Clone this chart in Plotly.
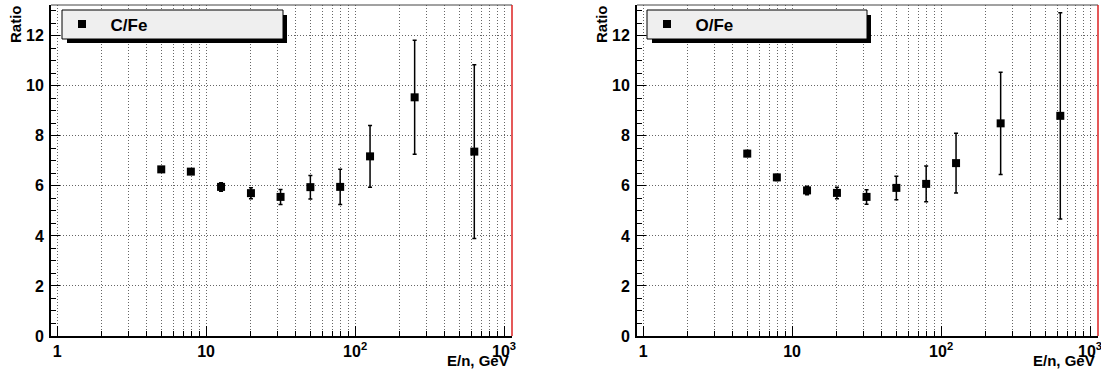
import math
import plotly.graph_objects as go

# ---- data ----
energy = [5.0, 7.9, 12.6, 20.0, 31.6, 50.1, 79.4, 126, 251, 631]
c_fe = [6.66, 6.57, 5.96, 5.71, 5.56, 5.95, 5.96, 7.18, 9.54, 7.37]
c_fe_err = [0.10, 0.10, 0.17, 0.22, 0.30, 0.47, 0.70, 1.23, 2.28, 3.47]
o_fe = [7.29, 6.34, 5.82, 5.72, 5.56, 5.92, 6.08, 6.91, 8.50, 8.80]
o_fe_err = [0.12, 0.12, 0.17, 0.23, 0.29, 0.47, 0.71, 1.19, 2.04, 4.12]
series_names = ["C/Fe", "O/Fe"]
x_tick_vals = [1, 10, 100, 1000]
x_tick_text = ["<b>1</b>", "<b>10</b>", "<b>10<sup>2</sup></b>", "<b>10<sup>3</sup></b>"]
x_minor_vals = [2, 3, 4, 5, 6, 7, 8, 9, 20, 30, 40, 50, 60, 70, 80, 90,
                200, 300, 400, 500, 600, 700, 800, 900]
y_tick_vals = [0, 2, 4, 6, 8, 10, 12]
y_axis_title = "Ratio"
x_axis_title = "E/n, GeV"

W, H = 1101, 376
FONT = "Liberation Sans, Arial, Helvetica, sans-serif"
GRID = "#666666"
GRIDDASH = "1px,2px"

def px(x):
    return x / W

def py(y):
    return (H - y) / H

panels = [
    dict(left=51, right=512, legend_box=(62, 283)),
    dict(left=637, right=1098, legend_box=(647, 867)),
]
plot_top, plot_bottom = 5, 336

fig = go.Figure()

datasets = [(c_fe, c_fe_err), (o_fe, o_fe_err)]
for i, (vals, errs) in enumerate(datasets):
    n = "" if i == 0 else "2"
    fig.add_trace(go.Scatter(
        x=energy, y=vals,
        error_y=dict(type="data", array=errs, visible=True, color="black",
                     thickness=1.5, width=2),
        mode="markers",
        marker=dict(symbol="square", size=8, color="black"),
        name="\u2002<b>" + series_names[i] + "</b>",
        xaxis="x" + n, yaxis="y" + n,
        legend="legend" + n,
        showlegend=True,
        hoverinfo="skip",
    ))

shapes = []
annotations = []
for i, p in enumerate(panels):
    n = "" if i == 0 else "2"
    xa = dict(
        type="log",
        domain=[px(p["left"]), px(p["right"])],
        range=[math.log10(0.91), math.log10(1130)],
        anchor="y" + n,
        automargin=False,
        tickmode="array", tickvals=x_tick_vals, ticktext=x_tick_text,
        ticks="inside", ticklen=10, tickwidth=1, tickcolor="black",
        tickfont=dict(family=FONT, size=16, color="black"),
        ticklabelstandoff=0,
        ticklabeloverflow="allow",
        showgrid=True, gridcolor=GRID, griddash=GRIDDASH, gridwidth=1,
        minor=dict(tickmode="array", tickvals=x_minor_vals, ticks="inside",
                   ticklen=5, tickcolor="black", showgrid=True,
                   gridcolor=GRID, griddash=GRIDDASH, gridwidth=1),
        showline=True, linecolor="black", linewidth=2,
        zeroline=False, fixedrange=True,
    )
    ya = dict(
        domain=[py(plot_bottom), py(plot_top)],
        range=[0, 13.23],
        anchor="x" + n,
        automargin=False,
        tickmode="array", tickvals=y_tick_vals,
        ticktext=["<b>%d</b>" % v for v in y_tick_vals],
        ticks="inside", ticklen=9, tickwidth=1, tickcolor="black",
        tickfont=dict(family=FONT, size=16, color="black"),
        ticklabelstandoff=2,
        ticklabeloverflow="allow",
        showgrid=True, gridcolor=GRID, griddash=GRIDDASH, gridwidth=1,
        minor=dict(dtick=0.5, ticks="inside", ticklen=5, tickcolor="black",
                   showgrid=False),
        showline=True, linecolor="black", linewidth=2,
        zeroline=False, fixedrange=True,
    )
    fig.update_layout(**{"xaxis" + n: xa, "yaxis" + n: ya})

    # frame: thin top line, red right line
    shapes.append(dict(type="line", xref="x%s domain" % n, yref="y%s domain" % n,
                       x0=0, x1=1, y0=1, y1=1, line=dict(color="#444444", width=1)))
    shapes.append(dict(type="line", xref="x%s domain" % n, yref="y%s domain" % n,
                       x0=1, x1=1, y0=0, y1=1, line=dict(color="#dd2222", width=1.5)))

    # legend box with shadow
    bx0, bx1 = p["legend_box"]
    shapes.append(dict(type="rect", xref="paper", yref="paper",
                       x0=px(bx0 + 5), x1=px(bx1 + 4), y0=py(43), y1=py(15),
                       fillcolor="black", line=dict(width=0)))
    shapes.append(dict(type="rect", xref="paper", yref="paper",
                       x0=px(bx0), x1=px(bx1), y0=py(39), y1=py(10),
                       fillcolor="#efefef", line=dict(color="black", width=1)))

    fig.update_layout(**{"legend" + n: dict(
        x=px(bx0), y=py(24.5), xanchor="left", yanchor="middle",
        xref="paper", yref="paper",
        bgcolor="rgba(0,0,0,0)", borderwidth=0,
        font=dict(family=FONT, size=17, color="black"),
        itemclick=False, itemdoubleclick=False,
    )})

    annotations.append(dict(
        text="<b>" + y_axis_title + "</b>", textangle=-90,
        xref="paper", yref="paper", x=px(p["left"] - 36), y=py(3),
        xanchor="center", yanchor="top", showarrow=False,
        font=dict(family=FONT, size=15, color="black"),
    ))
    annotations.append(dict(
        text="<b>" + x_axis_title + "</b>",
        xref="paper", yref="paper", x=px(p["right"] - 1), y=py(360),
        xanchor="right", yanchor="middle", showarrow=False,
        font=dict(family=FONT, size=15, color="black"),
    ))

fig.update_layout(
    template="none",
    width=W, height=H,
    margin=dict(l=0, r=0, t=0, b=0, autoexpand=False),
    paper_bgcolor="white", plot_bgcolor="white",
    shapes=shapes, annotations=annotations,
    font=dict(family=FONT, color="black"),
    hovermode=False,
)

fig.write_html(
    "out.html",
    config={"displayModeBar": False, "staticPlot": False},
    post_script="document.body.style.margin='0px';"
                "document.body.style.overflow='hidden';",
)
